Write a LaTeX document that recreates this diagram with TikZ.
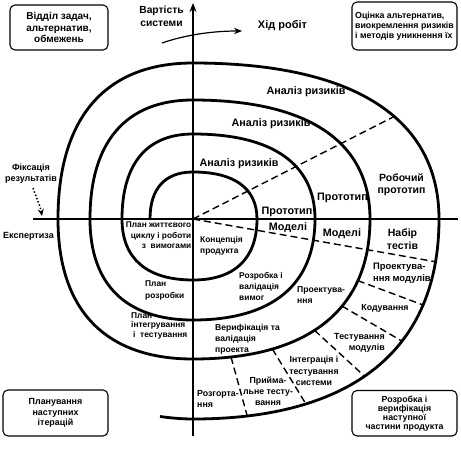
\documentclass[tikz,border=0pt]{standalone}
\usepackage{fontspec}
\setmainfont{Liberation Sans}
\usetikzlibrary{arrows.meta,intersections,calc}
\tikzset{
  spiral/.style={line width=2.8pt},
  axisline/.style={line width=1.4pt},
  dashline/.style={line width=1.4pt, dash pattern=on 7pt off 4pt},
  dotline/.style={line width=1.5pt, dash pattern=on 1.5pt off 2pt},
  thinarrow/.style={line width=1.2pt, -{Stealth[length=8pt,width=6.5pt]}},
  box/.style={draw, line width=1.1pt, rounded corners=5pt, inner sep=0pt, align=center},
  lbl/.style={inner sep=0pt},
  fs/.style 2 args={font=\bfseries\fontsize{#1}{#2}\selectfont},
}
\begin{document}
\begin{tikzpicture}[x=1pt,y=-1pt]
\fill[white] (0,0) rectangle (461,448);
\useasboundingbox (0,0) rectangle (461,448);

\coordinate (O) at (193,219);
\coordinate (hl) at (33,219);
\coordinate (hr) at (458,219);
\coordinate (vb) at (193,436);
\coordinate (vt) at (193,3);

% axes
\draw[axisline] (hl) -- (hr);
\draw[axisline, -{Stealth[length=9pt,width=7pt]}] (vb) -- (vt);

% spiral
\draw[spiral] (150,219) .. controls (150,188.45) and (165.05,172) .. (193,172)
 .. controls (234.6,172) and (257,188.45) .. (257,219)
 .. controls (257,258.65) and (234.6,280) .. (193,280)
 .. controls (146.85,280) and (122,258.65) .. (122,219)
 .. controls (122,163.75) and (146.85,134) .. (193,134)
 .. controls (272.3,134) and (315,163.75) .. (315,219)
 .. controls (315,284.65) and (272.3,320) .. (193,320)
 .. controls (126.05,320) and (90,284.65) .. (90,219)
 .. controls (90,141.65) and (126.05,100) .. (193,100)
 .. controls (308.05,100) and (370,141.65) .. (370,219)
 .. controls (370,310) and (308.05,359) .. (193,359)
 .. controls (105.25,359) and (58,310) .. (58,219)
 .. controls (58,117.6) and (105.25,63) .. (193,63)
 .. controls (352.9,63) and (439,117.6) .. (439,219)
 .. controls (439,349) and (352.9,419) .. (193,419)
 .. controls (182,419) and (171,418) .. (160,416.5);

% helper paths for the dashed rays
\path[name path=q11] (370,219) .. controls (370,310) and (308.05,359) .. (193,359);
\path[name path=q14] (193,63) .. controls (352.9,63) and (439,117.6) .. (439,219);
\path[name path=q15] (439,219) .. controls (439,349) and (352.9,419) .. (193,419);

\path[name path=rayU] (O) -- ++(-27:300);
\path[name path=rayL] (O) -- ++(10:300);
\path[name intersections={of=q14 and rayU, by=eU}];
\path[name intersections={of=q15 and rayL, by=eL}];
\draw[dashline] (O) -- (eU);
\draw[dashline] (O) -- (eL);

\foreach \a/\n in {20.5/a,30.3/b,42.5/c,58.6/d,74.6/e} {
  \path[name path=ray\n] (O) -- ++(\a:300);
  \path[name intersections={of=q11 and ray\n, by=s\n}];
  \path[name intersections={of=q15 and ray\n, by=t\n}];
  \draw[dashline] (s\n) -- (t\n);
}

% progress arrow
\coordinate (xa) at (162,43);
\coordinate (xb) at (242,31);
\draw[thinarrow] (xa) .. controls (185,35) and (212,31) .. (xb);

% fixation dotted arrow
\coordinate (fa) at (33,188);
\coordinate (fb) at (42,216);
\draw[dotline, -{Stealth[length=7pt,width=6pt]}] (fa) .. controls (36,197) and (40,205) .. (fb);

% boxes
\node[box, fs={10}{11.5}, minimum width=98pt, minimum height=45pt] (bTL) at (59,27.5) {Відділ задач,\\альтернатив,\\обмежень};
\node[box, fs={8.8}{10}, align=left, minimum width=105pt, minimum height=48pt] (bTR) at (404.5,26) {Оцінка альтернатив,\\виокремлення ризиків\\і методів уникнення їх};
\node[box, fs={8.9}{10.5}, minimum width=105pt, minimum height=46pt] (bBL) at (55.5,413) {Планування\\наступних\\ітерацій};
\node[box, fs={8.8}{9}, minimum width=105pt, minimum height=45.5pt] (bBR) at (404.5,413.25) {Розробка і\\верифікація\\наступної\\частини продукта};

% axis labels
\node[lbl, fs={10.3}{13}, align=center] (vart) at (161.5,16.8) {Вартість\\системи};
\node[lbl, fs={11}{13}, anchor=base] (xid) at (282.5,28) {Хід робіт};
\node[lbl, fs={9}{11}, align=center] (fiks) at (31,173.2) {Фіксація\\результатів};
\node[lbl, fs={9}{11}, anchor=base] (eksp) at (28.5,238.5) {Експертиза};

% big labels
\node[lbl, fs={10.8}{13}, anchor=base] (ar1) at (306,94.5) {Аналіз ризиків};
\node[lbl, fs={10.8}{13}, anchor=base] (ar2) at (271,126) {Аналіз ризиків};
\node[lbl, fs={10.8}{13}, anchor=base] (ar3) at (239,166) {Аналіз ризиків};
\node[lbl, fs={10.8}{13}, anchor=base] (pr1) at (287,214) {Прототип};
\node[lbl, fs={10.8}{13}, anchor=base] (pr2) at (342.5,200) {Прототип};
\node[lbl, fs={10.5}{12}, align=center] (rob) at (401.5,184.3) {Робочий\\прототип};
\node[lbl, fs={10.8}{13}, anchor=base] (mo1) at (288,230.5) {Моделі};
\node[lbl, fs={10.8}{13}, anchor=base] (mo2) at (342,236.3) {Моделі};
\node[lbl, fs={10.5}{12.5}, align=center] (nab) at (402.5,239) {Набір\\тестів};

% small labels
\node[lbl, fs={8.3}{10.5}, align=right, anchor=east] (plz) at (191.5,235.5) {План життєвого\\циклу і роботи\\з\ \ вимогами};
\node[lbl, fs={8.4}{10.5}, align=left, anchor=west] (konc) at (200,245.7) {Концепція\\продукта};
\node[lbl, fs={8.4}{11.3}, align=left, anchor=west] (rzv) at (239,286.3) {Розробка і\\валідація\\вимог};
\node[lbl, fs={8.4}{12}, align=left, anchor=west] (plr) at (145,290) {План\\розробки};
\node[lbl, fs={8.4}{9.5}, align=left, anchor=west] (pli) at (131,325.7) {План\\інтегрування\\\hspace*{2pt}і\ \ тестування};
\node[lbl, fs={8.6}{11}, align=left, anchor=west] (ver) at (215,339.7) {Верифікація та\\валідація\\проекта};
\node[lbl, fs={8.6}{10.5}, align=left, anchor=west] (pro) at (297,295) {Проектува-\\ння};
\node[lbl, fs={9.4}{12}, align=left, anchor=west] (prm) at (373,273.5) {Проектува-\\ння модулів};
\node[lbl, fs={8.8}{12}, anchor=base] (kod) at (385,310.5) {Кодування};
\node[lbl, fs={8.9}{11.7}, align=right, anchor=east] (tm) at (385,343) {Тестування\\модулів};
\node[lbl, fs={8.8}{11.8}, align=center] (int) at (314,371) {Інтеграція і\\тестування\\системи};
\node[lbl, fs={8.8}{11}, align=center] (pri) at (268,391) {Прийма-\\льне тесту-\\вання};
\node[lbl, fs={8.8}{11.5}, align=left, anchor=west] (rzg) at (197,399) {Розгорта-\\ння};
\end{tikzpicture}
\end{document}
